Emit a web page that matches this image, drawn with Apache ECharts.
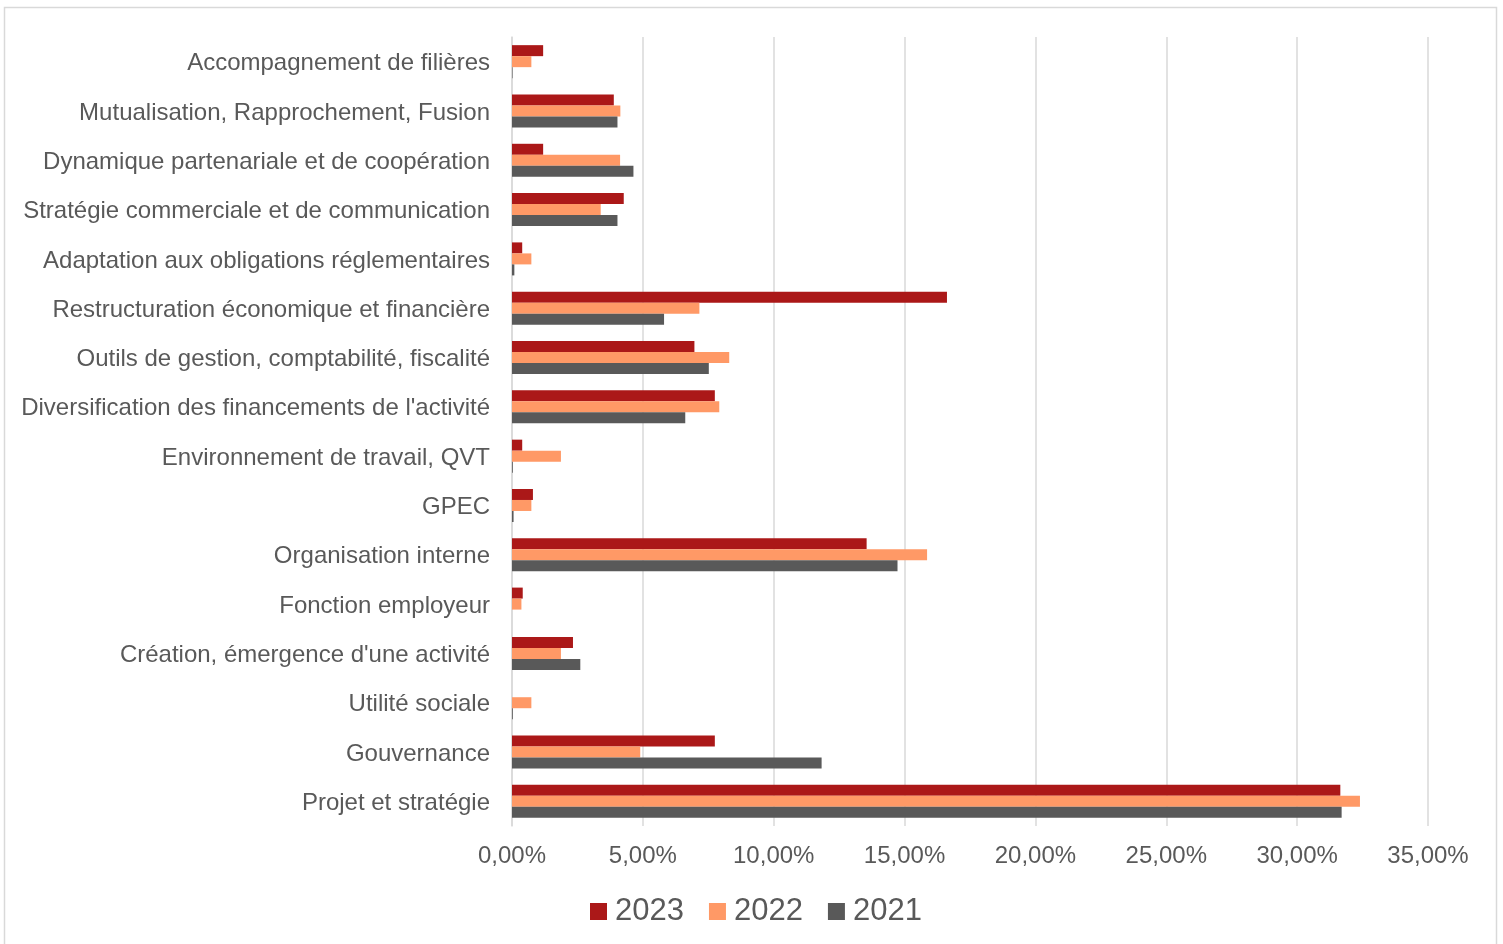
<!DOCTYPE html>
<html>
<head>
<meta charset="utf-8">
<script src="https://cdn.jsdelivr.net/npm/echarts@6/dist/echarts.min.js"></script>
<style>
html,body{margin:0;padding:0;background:#fff;}
#chart{width:1503px;height:944px;}
</style>
</head>
<body>
<div id="chart"></div>
<script>
// Categories, listed top to bottom as in the picture
const categories = [
  'Accompagnement de filières',
  'Mutualisation, Rapprochement, Fusion',
  'Dynamique partenariale et de coopération',
  'Stratégie commerciale et de communication',
  'Adaptation aux obligations réglementaires',
  'Restructuration économique et financière',
  'Outils de gestion, comptabilité, fiscalité',
  "Diversification des financements de l'activité",
  'Environnement de travail, QVT',
  'GPEC',
  'Organisation interne',
  'Fonction employeur',
  "Création, émergence d'une activité",
  'Utilité sociale',
  'Gouvernance',
  'Projet et stratégie'
];
// Values in percent
const v2023 = [1.19, 3.89, 1.19, 4.27, 0.39, 16.62, 6.97, 7.75, 0.39, 0.80, 13.55, 0.41, 2.33, 0, 7.75, 31.65];
const v2022 = [0.74, 4.14, 4.13, 3.39, 0.74, 7.16, 8.30, 7.92, 1.87, 0.74, 15.86, 0.36, 1.87, 0.74, 4.90, 32.40];
const v2021 = [0.02, 4.03, 4.64, 4.03, 0.09, 5.81, 7.52, 6.62, 0.03, 0.06, 14.73, 0, 2.61, 0.03, 11.83, 31.70];
const seriesNames = ['2023', '2022', '2021'];
const xTicks = { min: 0, max: 35, interval: 5 };

const FONT = "'Liberation Sans', Arial, sans-serif";
const TXT = '#595959';
const GRIDC = '#d9d9d9';
const colors = ['#AB1818', '#FF9966', '#595959'];

const chart = echarts.init(document.getElementById('chart'), null, { renderer: 'canvas' });
const dataSets = [v2023, v2022, v2021];
chart.setOption({
  animation: false,
  backgroundColor: '#ffffff',
  textStyle: { fontFamily: FONT },
  graphic: [{
    type: 'rect',
    shape: { x: 4.5, y: 7.5, width: 1492, height: 960 },
    style: { fill: 'none', stroke: GRIDC, lineWidth: 1.5 },
    silent: true, z: -10
  }],
  legend: {
    data: seriesNames,
    left: 585,
    top: 891,
    itemWidth: 17,
    itemHeight: 17,
    itemGap: 25,
    icon: 'rect',
    textStyle: { fontFamily: FONT, fontSize: 31, color: TXT, padding: [0, 0, 0, 3] }
  },
  grid: { left: 512, right: 75, top: 37, bottom: 118, containLabel: false },
  xAxis: {
    type: 'value',
    min: xTicks.min, max: xTicks.max, interval: xTicks.interval,
    axisLine: { show: false },
    axisTick: { show: false },
    splitLine: { show: true, lineStyle: { color: GRIDC, width: 1.5 } },
    axisLabel: {
      fontFamily: FONT, fontSize: 24, color: TXT, margin: 18,
      formatter: v => v.toFixed(2).replace('.', ',') + '%'
    }
  },
  yAxis: {
    type: 'category',
    inverse: true,
    data: categories,
    axisLine: { show: true, lineStyle: { color: GRIDC, width: 1.5 } },
    axisTick: { show: false },
    axisLabel: {
      fontFamily: FONT, fontSize: 24, color: TXT, margin: 22,
      formatter: v => '{c|' + v + '}',
      rich: { c: { fontFamily: FONT, fontSize: 24, color: TXT, padding: [4, 0, 0, 0] } }
    }
  },
  series: seriesNames.map((n, i) => ({
    name: n,
    type: 'bar',
    data: dataSets[i],
    barWidth: 11,
    barGap: '0%',
    itemStyle: { color: colors[i] }
  }))
});
</script>
</body>
</html>
